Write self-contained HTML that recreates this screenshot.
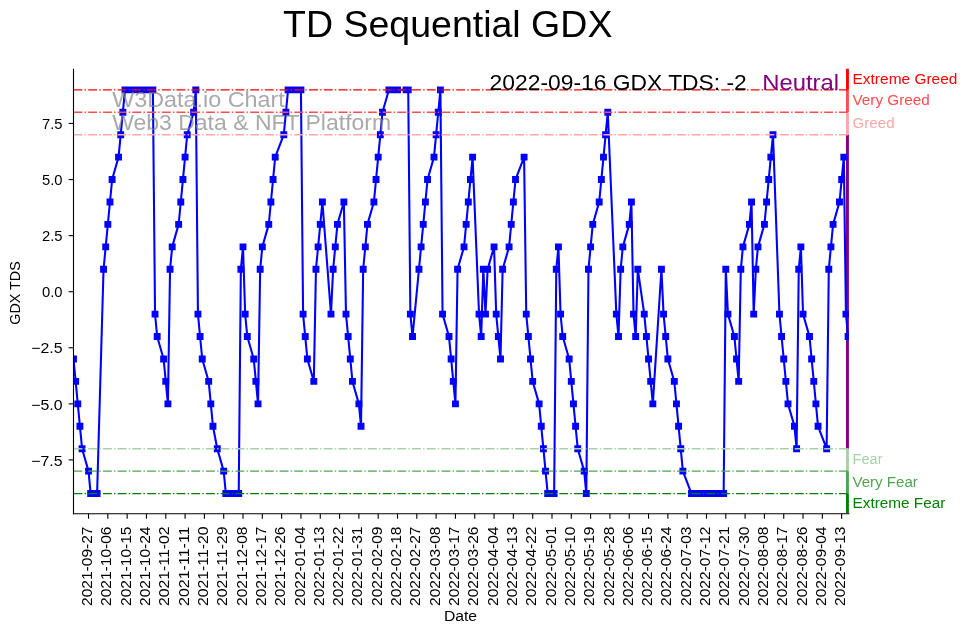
<!DOCTYPE html>
<html><head><meta charset="utf-8"><title>TD Sequential GDX</title>
<style>
html,body{margin:0;padding:0;background:#fff;}
body{width:967px;height:633px;overflow:hidden;}
svg{display:block;will-change:transform;}
text{font-family:"Liberation Sans",sans-serif;}
</style></head><body>
<svg width="967" height="633" viewBox="0 0 967 633">
<defs><clipPath id="ax"><rect x="73.5" y="69.4" width="775.4" height="444.4"/></clipPath></defs>
<g id="sentiment-bar">
<rect x="846.0" y="68.80" width="2.9" height="21.03" fill="#ff0000"/>
<rect x="846.0" y="89.83" width="2.9" height="22.43" fill="#ff4d4d"/>
<rect x="846.0" y="112.26" width="2.9" height="22.43" fill="#ffa6a6"/>
<rect x="846.0" y="134.69" width="2.9" height="314.02" fill="#800080"/>
<rect x="846.0" y="448.71" width="2.9" height="22.43" fill="#a6d2a6"/>
<rect x="846.0" y="471.14" width="2.9" height="22.43" fill="#4da64d"/>
<rect x="846.0" y="493.57" width="2.9" height="19.63" fill="#008000"/>
</g>
<g id="series" clip-path="url(#ax)">
<polyline fill="none" stroke="#0000ff" stroke-width="2.08" stroke-linejoin="round" stroke-linecap="square" points="73.50,358.99 75.65,381.42 77.79,403.85 79.94,426.28 82.08,448.71 88.52,471.14 90.67,493.57 92.81,493.57 94.96,493.57 97.10,493.57 103.54,269.27 105.69,246.84 107.83,224.41 109.98,201.98 112.12,179.55 118.56,157.12 120.71,134.69 122.85,112.26 125.00,89.83 127.14,89.83 133.58,89.83 135.73,89.83 137.87,89.83 140.02,89.83 142.16,89.83 148.60,89.83 150.75,89.83 152.89,89.83 155.04,314.13 157.18,336.56 163.62,358.99 165.77,381.42 167.91,403.85 170.06,269.27 172.20,246.84 178.64,224.41 180.79,201.98 182.93,179.55 185.08,157.12 187.22,134.69 193.66,112.26 195.80,89.83 197.95,314.13 200.10,336.56 202.24,358.99 208.68,381.42 210.82,403.85 212.97,426.28 217.26,448.71 223.70,471.14 225.84,493.57 227.99,493.57 230.14,493.57 232.28,493.57 238.72,493.57 240.86,269.27 243.01,246.84 245.16,314.13 247.30,336.56 253.74,358.99 255.88,381.42 258.03,403.85 260.18,269.27 262.32,246.84 268.76,224.41 270.90,201.98 273.05,179.55 275.20,157.12 283.78,134.69 285.92,112.26 288.07,89.83 290.22,89.83 292.36,89.83 298.80,89.83 300.94,89.83 303.09,314.13 305.24,336.56 307.38,358.99 313.82,381.42 315.96,269.27 318.11,246.84 320.26,224.41 322.40,201.98 330.98,314.13 333.13,269.27 335.28,246.84 337.42,224.41 343.86,201.98 346.00,314.13 348.15,336.56 350.30,358.99 352.44,381.42 358.88,403.85 361.02,426.28 363.17,269.27 365.32,246.84 367.46,224.41 373.90,201.98 376.04,179.55 378.19,157.12 380.34,134.69 382.48,112.26 388.92,89.83 391.06,89.83 393.21,89.83 395.36,89.83 397.50,89.83 406.08,89.83 408.23,89.83 410.37,314.13 412.52,336.56 418.96,269.27 421.10,246.84 423.25,224.41 425.39,201.98 427.54,179.55 433.98,157.12 436.12,134.69 438.27,112.26 440.41,89.83 442.56,314.13 449.00,336.56 451.14,358.99 453.29,381.42 455.43,403.85 457.58,269.27 464.02,246.84 466.16,224.41 468.31,201.98 470.45,179.55 472.60,157.12 479.04,314.13 481.18,336.56 483.33,269.27 485.47,314.13 487.62,269.27 494.06,246.84 496.20,314.13 498.35,336.56 500.49,358.99 502.64,269.27 509.08,246.84 511.22,224.41 513.37,201.98 515.51,179.55 524.10,157.12 526.24,314.13 528.39,336.56 530.53,358.99 532.68,381.42 539.12,403.85 541.26,426.28 543.41,448.71 545.55,471.14 547.70,493.57 554.14,493.57 556.28,269.27 558.43,246.84 560.57,314.13 562.72,336.56 569.16,358.99 571.30,381.42 573.45,403.85 575.59,426.28 577.74,448.71 584.18,471.14 586.32,493.57 588.47,269.27 590.61,246.84 592.76,224.41 599.20,201.98 601.34,179.55 603.49,157.12 605.63,134.69 607.78,112.26 616.36,314.13 618.51,336.56 620.65,269.27 622.80,246.84 629.24,224.41 631.38,201.98 633.53,314.13 635.67,336.56 637.82,269.27 644.26,314.13 646.40,336.56 648.55,358.99 650.69,381.42 652.84,403.85 661.42,269.27 663.57,314.13 665.71,336.56 667.86,358.99 674.30,381.42 676.44,403.85 678.59,426.28 680.73,448.71 682.88,471.14 691.46,493.57 693.61,493.57 695.75,493.57 697.90,493.57 704.34,493.57 706.48,493.57 708.63,493.57 710.77,493.57 712.92,493.57 719.36,493.57 721.50,493.57 723.65,493.57 725.79,269.27 727.94,314.13 734.38,336.56 736.52,358.99 738.67,381.42 740.81,269.27 742.96,246.84 749.40,224.41 751.54,201.98 753.69,314.13 755.83,269.27 757.98,246.84 764.42,224.41 766.56,201.98 768.71,179.55 770.85,157.12 773.00,134.69 779.44,314.13 781.58,336.56 783.73,358.99 785.87,381.42 788.02,403.85 794.46,426.28 796.60,448.71 798.75,269.27 800.89,246.84 803.04,314.13 809.48,336.56 811.62,358.99 813.77,381.42 815.91,403.85 818.06,426.28 826.64,448.71 828.79,269.27 830.93,246.84 833.08,224.41 839.51,201.98 841.66,179.55 843.81,157.12 845.95,314.13 848.10,336.56"/>
<path d="M70.05 355.54h6.9v6.9h-6.9zM72.20 377.97h6.9v6.9h-6.9zM74.34 400.40h6.9v6.9h-6.9zM76.49 422.83h6.9v6.9h-6.9zM78.63 445.26h6.9v6.9h-6.9zM85.07 467.69h6.9v6.9h-6.9zM87.22 490.12h6.9v6.9h-6.9zM89.36 490.12h6.9v6.9h-6.9zM91.51 490.12h6.9v6.9h-6.9zM93.65 490.12h6.9v6.9h-6.9zM100.09 265.82h6.9v6.9h-6.9zM102.24 243.39h6.9v6.9h-6.9zM104.38 220.96h6.9v6.9h-6.9zM106.53 198.53h6.9v6.9h-6.9zM108.67 176.10h6.9v6.9h-6.9zM115.11 153.67h6.9v6.9h-6.9zM117.26 131.24h6.9v6.9h-6.9zM119.40 108.81h6.9v6.9h-6.9zM121.55 86.38h6.9v6.9h-6.9zM123.69 86.38h6.9v6.9h-6.9zM130.13 86.38h6.9v6.9h-6.9zM132.28 86.38h6.9v6.9h-6.9zM134.42 86.38h6.9v6.9h-6.9zM136.57 86.38h6.9v6.9h-6.9zM138.71 86.38h6.9v6.9h-6.9zM145.15 86.38h6.9v6.9h-6.9zM147.30 86.38h6.9v6.9h-6.9zM149.44 86.38h6.9v6.9h-6.9zM151.59 310.68h6.9v6.9h-6.9zM153.73 333.11h6.9v6.9h-6.9zM160.17 355.54h6.9v6.9h-6.9zM162.32 377.97h6.9v6.9h-6.9zM164.46 400.40h6.9v6.9h-6.9zM166.61 265.82h6.9v6.9h-6.9zM168.75 243.39h6.9v6.9h-6.9zM175.19 220.96h6.9v6.9h-6.9zM177.34 198.53h6.9v6.9h-6.9zM179.48 176.10h6.9v6.9h-6.9zM181.63 153.67h6.9v6.9h-6.9zM183.77 131.24h6.9v6.9h-6.9zM190.21 108.81h6.9v6.9h-6.9zM192.35 86.38h6.9v6.9h-6.9zM194.50 310.68h6.9v6.9h-6.9zM196.65 333.11h6.9v6.9h-6.9zM198.79 355.54h6.9v6.9h-6.9zM205.23 377.97h6.9v6.9h-6.9zM207.37 400.40h6.9v6.9h-6.9zM209.52 422.83h6.9v6.9h-6.9zM213.81 445.26h6.9v6.9h-6.9zM220.25 467.69h6.9v6.9h-6.9zM222.39 490.12h6.9v6.9h-6.9zM224.54 490.12h6.9v6.9h-6.9zM226.69 490.12h6.9v6.9h-6.9zM228.83 490.12h6.9v6.9h-6.9zM235.27 490.12h6.9v6.9h-6.9zM237.41 265.82h6.9v6.9h-6.9zM239.56 243.39h6.9v6.9h-6.9zM241.71 310.68h6.9v6.9h-6.9zM243.85 333.11h6.9v6.9h-6.9zM250.29 355.54h6.9v6.9h-6.9zM252.43 377.97h6.9v6.9h-6.9zM254.58 400.40h6.9v6.9h-6.9zM256.73 265.82h6.9v6.9h-6.9zM258.87 243.39h6.9v6.9h-6.9zM265.31 220.96h6.9v6.9h-6.9zM267.45 198.53h6.9v6.9h-6.9zM269.60 176.10h6.9v6.9h-6.9zM271.75 153.67h6.9v6.9h-6.9zM280.33 131.24h6.9v6.9h-6.9zM282.47 108.81h6.9v6.9h-6.9zM284.62 86.38h6.9v6.9h-6.9zM286.77 86.38h6.9v6.9h-6.9zM288.91 86.38h6.9v6.9h-6.9zM295.35 86.38h6.9v6.9h-6.9zM297.49 86.38h6.9v6.9h-6.9zM299.64 310.68h6.9v6.9h-6.9zM301.79 333.11h6.9v6.9h-6.9zM303.93 355.54h6.9v6.9h-6.9zM310.37 377.97h6.9v6.9h-6.9zM312.51 265.82h6.9v6.9h-6.9zM314.66 243.39h6.9v6.9h-6.9zM316.81 220.96h6.9v6.9h-6.9zM318.95 198.53h6.9v6.9h-6.9zM327.53 310.68h6.9v6.9h-6.9zM329.68 265.82h6.9v6.9h-6.9zM331.83 243.39h6.9v6.9h-6.9zM333.97 220.96h6.9v6.9h-6.9zM340.41 198.53h6.9v6.9h-6.9zM342.55 310.68h6.9v6.9h-6.9zM344.70 333.11h6.9v6.9h-6.9zM346.85 355.54h6.9v6.9h-6.9zM348.99 377.97h6.9v6.9h-6.9zM355.43 400.40h6.9v6.9h-6.9zM357.57 422.83h6.9v6.9h-6.9zM359.72 265.82h6.9v6.9h-6.9zM361.87 243.39h6.9v6.9h-6.9zM364.01 220.96h6.9v6.9h-6.9zM370.45 198.53h6.9v6.9h-6.9zM372.59 176.10h6.9v6.9h-6.9zM374.74 153.67h6.9v6.9h-6.9zM376.89 131.24h6.9v6.9h-6.9zM379.03 108.81h6.9v6.9h-6.9zM385.47 86.38h6.9v6.9h-6.9zM387.61 86.38h6.9v6.9h-6.9zM389.76 86.38h6.9v6.9h-6.9zM391.91 86.38h6.9v6.9h-6.9zM394.05 86.38h6.9v6.9h-6.9zM402.63 86.38h6.9v6.9h-6.9zM404.78 86.38h6.9v6.9h-6.9zM406.92 310.68h6.9v6.9h-6.9zM409.07 333.11h6.9v6.9h-6.9zM415.51 265.82h6.9v6.9h-6.9zM417.65 243.39h6.9v6.9h-6.9zM419.80 220.96h6.9v6.9h-6.9zM421.94 198.53h6.9v6.9h-6.9zM424.09 176.10h6.9v6.9h-6.9zM430.53 153.67h6.9v6.9h-6.9zM432.67 131.24h6.9v6.9h-6.9zM434.82 108.81h6.9v6.9h-6.9zM436.96 86.38h6.9v6.9h-6.9zM439.11 310.68h6.9v6.9h-6.9zM445.55 333.11h6.9v6.9h-6.9zM447.69 355.54h6.9v6.9h-6.9zM449.84 377.97h6.9v6.9h-6.9zM451.98 400.40h6.9v6.9h-6.9zM454.13 265.82h6.9v6.9h-6.9zM460.57 243.39h6.9v6.9h-6.9zM462.71 220.96h6.9v6.9h-6.9zM464.86 198.53h6.9v6.9h-6.9zM467.00 176.10h6.9v6.9h-6.9zM469.15 153.67h6.9v6.9h-6.9zM475.59 310.68h6.9v6.9h-6.9zM477.73 333.11h6.9v6.9h-6.9zM479.88 265.82h6.9v6.9h-6.9zM482.02 310.68h6.9v6.9h-6.9zM484.17 265.82h6.9v6.9h-6.9zM490.61 243.39h6.9v6.9h-6.9zM492.75 310.68h6.9v6.9h-6.9zM494.90 333.11h6.9v6.9h-6.9zM497.04 355.54h6.9v6.9h-6.9zM499.19 265.82h6.9v6.9h-6.9zM505.63 243.39h6.9v6.9h-6.9zM507.77 220.96h6.9v6.9h-6.9zM509.92 198.53h6.9v6.9h-6.9zM512.06 176.10h6.9v6.9h-6.9zM520.65 153.67h6.9v6.9h-6.9zM522.79 310.68h6.9v6.9h-6.9zM524.94 333.11h6.9v6.9h-6.9zM527.08 355.54h6.9v6.9h-6.9zM529.23 377.97h6.9v6.9h-6.9zM535.67 400.40h6.9v6.9h-6.9zM537.81 422.83h6.9v6.9h-6.9zM539.96 445.26h6.9v6.9h-6.9zM542.10 467.69h6.9v6.9h-6.9zM544.25 490.12h6.9v6.9h-6.9zM550.69 490.12h6.9v6.9h-6.9zM552.83 265.82h6.9v6.9h-6.9zM554.98 243.39h6.9v6.9h-6.9zM557.12 310.68h6.9v6.9h-6.9zM559.27 333.11h6.9v6.9h-6.9zM565.71 355.54h6.9v6.9h-6.9zM567.85 377.97h6.9v6.9h-6.9zM570.00 400.40h6.9v6.9h-6.9zM572.14 422.83h6.9v6.9h-6.9zM574.29 445.26h6.9v6.9h-6.9zM580.73 467.69h6.9v6.9h-6.9zM582.87 490.12h6.9v6.9h-6.9zM585.02 265.82h6.9v6.9h-6.9zM587.16 243.39h6.9v6.9h-6.9zM589.31 220.96h6.9v6.9h-6.9zM595.75 198.53h6.9v6.9h-6.9zM597.89 176.10h6.9v6.9h-6.9zM600.04 153.67h6.9v6.9h-6.9zM602.18 131.24h6.9v6.9h-6.9zM604.33 108.81h6.9v6.9h-6.9zM612.91 310.68h6.9v6.9h-6.9zM615.06 333.11h6.9v6.9h-6.9zM617.20 265.82h6.9v6.9h-6.9zM619.35 243.39h6.9v6.9h-6.9zM625.79 220.96h6.9v6.9h-6.9zM627.93 198.53h6.9v6.9h-6.9zM630.08 310.68h6.9v6.9h-6.9zM632.22 333.11h6.9v6.9h-6.9zM634.37 265.82h6.9v6.9h-6.9zM640.81 310.68h6.9v6.9h-6.9zM642.95 333.11h6.9v6.9h-6.9zM645.10 355.54h6.9v6.9h-6.9zM647.24 377.97h6.9v6.9h-6.9zM649.39 400.40h6.9v6.9h-6.9zM657.97 265.82h6.9v6.9h-6.9zM660.12 310.68h6.9v6.9h-6.9zM662.26 333.11h6.9v6.9h-6.9zM664.41 355.54h6.9v6.9h-6.9zM670.85 377.97h6.9v6.9h-6.9zM672.99 400.40h6.9v6.9h-6.9zM675.14 422.83h6.9v6.9h-6.9zM677.28 445.26h6.9v6.9h-6.9zM679.43 467.69h6.9v6.9h-6.9zM688.01 490.12h6.9v6.9h-6.9zM690.16 490.12h6.9v6.9h-6.9zM692.30 490.12h6.9v6.9h-6.9zM694.45 490.12h6.9v6.9h-6.9zM700.89 490.12h6.9v6.9h-6.9zM703.03 490.12h6.9v6.9h-6.9zM705.18 490.12h6.9v6.9h-6.9zM707.32 490.12h6.9v6.9h-6.9zM709.47 490.12h6.9v6.9h-6.9zM715.91 490.12h6.9v6.9h-6.9zM718.05 490.12h6.9v6.9h-6.9zM720.20 490.12h6.9v6.9h-6.9zM722.34 265.82h6.9v6.9h-6.9zM724.49 310.68h6.9v6.9h-6.9zM730.93 333.11h6.9v6.9h-6.9zM733.07 355.54h6.9v6.9h-6.9zM735.22 377.97h6.9v6.9h-6.9zM737.36 265.82h6.9v6.9h-6.9zM739.51 243.39h6.9v6.9h-6.9zM745.95 220.96h6.9v6.9h-6.9zM748.09 198.53h6.9v6.9h-6.9zM750.24 310.68h6.9v6.9h-6.9zM752.38 265.82h6.9v6.9h-6.9zM754.53 243.39h6.9v6.9h-6.9zM760.97 220.96h6.9v6.9h-6.9zM763.11 198.53h6.9v6.9h-6.9zM765.26 176.10h6.9v6.9h-6.9zM767.40 153.67h6.9v6.9h-6.9zM769.55 131.24h6.9v6.9h-6.9zM775.99 310.68h6.9v6.9h-6.9zM778.13 333.11h6.9v6.9h-6.9zM780.28 355.54h6.9v6.9h-6.9zM782.42 377.97h6.9v6.9h-6.9zM784.57 400.40h6.9v6.9h-6.9zM791.01 422.83h6.9v6.9h-6.9zM793.15 445.26h6.9v6.9h-6.9zM795.30 265.82h6.9v6.9h-6.9zM797.44 243.39h6.9v6.9h-6.9zM799.59 310.68h6.9v6.9h-6.9zM806.03 333.11h6.9v6.9h-6.9zM808.17 355.54h6.9v6.9h-6.9zM810.32 377.97h6.9v6.9h-6.9zM812.46 400.40h6.9v6.9h-6.9zM814.61 422.83h6.9v6.9h-6.9zM823.19 445.26h6.9v6.9h-6.9zM825.34 265.82h6.9v6.9h-6.9zM827.48 243.39h6.9v6.9h-6.9zM829.63 220.96h6.9v6.9h-6.9zM836.06 198.53h6.9v6.9h-6.9zM838.21 176.10h6.9v6.9h-6.9zM840.36 153.67h6.9v6.9h-6.9zM842.50 310.68h6.9v6.9h-6.9zM844.65 333.11h6.9v6.9h-6.9z" fill="#0000ff"/>
</g>
<g id="watermark" fill-opacity="0.68">
<text x="112.20" y="107.00" font-size="21.98" fill="#808080" text-anchor="start" textLength="172.63" lengthAdjust="spacingAndGlyphs">W3Data.io Chart</text>
<text x="112.20" y="130.00" font-size="21.98" fill="#808080" text-anchor="start" textLength="278.95" lengthAdjust="spacingAndGlyphs">Web3 Data &amp; NFT Platform</text>
</g>
<g id="levels" fill="none" stroke-width="1.39" stroke-dasharray="8.89 2.22 1.39 2.22">
<line x1="73.5" x2="848.9" y1="89.83" y2="89.83" stroke="#ff0000"/>
<line x1="73.5" x2="848.9" y1="112.26" y2="112.26" stroke="#ff4d4d"/>
<line x1="73.5" x2="848.9" y1="134.69" y2="134.69" stroke="#ffa6a6"/>
<line x1="73.5" x2="848.9" y1="448.71" y2="448.71" stroke="#a6d2a6"/>
<line x1="73.5" x2="848.9" y1="471.14" y2="471.14" stroke="#4da64d"/>
<line x1="73.5" x2="848.9" y1="493.57" y2="493.57" stroke="#008000"/>
</g>
<g id="axes" stroke="#000" stroke-width="1.11" fill="none" stroke-linecap="square">
<line x1="73.5" y1="69.4" x2="73.5" y2="513.8"/>
<line x1="73.5" y1="513.8" x2="848.9" y2="513.8"/>
</g>
<g id="ticks" stroke="#000" stroke-width="1.11" stroke-linecap="butt">
<line x1="88.52" x2="88.52" y1="513.8" y2="518.66"/>
<line x1="107.83" x2="107.83" y1="513.8" y2="518.66"/>
<line x1="127.14" x2="127.14" y1="513.8" y2="518.66"/>
<line x1="146.45" x2="146.45" y1="513.8" y2="518.66"/>
<line x1="165.77" x2="165.77" y1="513.8" y2="518.66"/>
<line x1="185.08" x2="185.08" y1="513.8" y2="518.66"/>
<line x1="204.39" x2="204.39" y1="513.8" y2="518.66"/>
<line x1="223.70" x2="223.70" y1="513.8" y2="518.66"/>
<line x1="243.01" x2="243.01" y1="513.8" y2="518.66"/>
<line x1="262.32" x2="262.32" y1="513.8" y2="518.66"/>
<line x1="281.63" x2="281.63" y1="513.8" y2="518.66"/>
<line x1="300.94" x2="300.94" y1="513.8" y2="518.66"/>
<line x1="320.26" x2="320.26" y1="513.8" y2="518.66"/>
<line x1="339.57" x2="339.57" y1="513.8" y2="518.66"/>
<line x1="358.88" x2="358.88" y1="513.8" y2="518.66"/>
<line x1="378.19" x2="378.19" y1="513.8" y2="518.66"/>
<line x1="397.50" x2="397.50" y1="513.8" y2="518.66"/>
<line x1="416.81" x2="416.81" y1="513.8" y2="518.66"/>
<line x1="436.12" x2="436.12" y1="513.8" y2="518.66"/>
<line x1="455.43" x2="455.43" y1="513.8" y2="518.66"/>
<line x1="474.75" x2="474.75" y1="513.8" y2="518.66"/>
<line x1="494.06" x2="494.06" y1="513.8" y2="518.66"/>
<line x1="513.37" x2="513.37" y1="513.8" y2="518.66"/>
<line x1="532.68" x2="532.68" y1="513.8" y2="518.66"/>
<line x1="551.99" x2="551.99" y1="513.8" y2="518.66"/>
<line x1="571.30" x2="571.30" y1="513.8" y2="518.66"/>
<line x1="590.61" x2="590.61" y1="513.8" y2="518.66"/>
<line x1="609.93" x2="609.93" y1="513.8" y2="518.66"/>
<line x1="629.24" x2="629.24" y1="513.8" y2="518.66"/>
<line x1="648.55" x2="648.55" y1="513.8" y2="518.66"/>
<line x1="667.86" x2="667.86" y1="513.8" y2="518.66"/>
<line x1="687.17" x2="687.17" y1="513.8" y2="518.66"/>
<line x1="706.48" x2="706.48" y1="513.8" y2="518.66"/>
<line x1="725.79" x2="725.79" y1="513.8" y2="518.66"/>
<line x1="745.10" x2="745.10" y1="513.8" y2="518.66"/>
<line x1="764.42" x2="764.42" y1="513.8" y2="518.66"/>
<line x1="783.73" x2="783.73" y1="513.8" y2="518.66"/>
<line x1="803.04" x2="803.04" y1="513.8" y2="518.66"/>
<line x1="822.35" x2="822.35" y1="513.8" y2="518.66"/>
<line x1="841.66" x2="841.66" y1="513.8" y2="518.66"/>
<line x1="68.64" x2="73.5" y1="123.47" y2="123.47"/>
<line x1="68.64" x2="73.5" y1="179.55" y2="179.55"/>
<line x1="68.64" x2="73.5" y1="235.62" y2="235.62"/>
<line x1="68.64" x2="73.5" y1="291.70" y2="291.70"/>
<line x1="68.64" x2="73.5" y1="347.77" y2="347.77"/>
<line x1="68.64" x2="73.5" y1="403.85" y2="403.85"/>
<line x1="68.64" x2="73.5" y1="459.92" y2="459.92"/>
</g>
<g id="ticklabels">
<text x="92.12" y="606.00" font-size="14.65" fill="#000" text-anchor="start" textLength="79.51" lengthAdjust="spacingAndGlyphs" transform="rotate(-90 92.12 606.00)">2021-09-27</text>
<text x="111.43" y="606.00" font-size="14.65" fill="#000" text-anchor="start" textLength="79.51" lengthAdjust="spacingAndGlyphs" transform="rotate(-90 111.43 606.00)">2021-10-06</text>
<text x="130.74" y="606.00" font-size="14.65" fill="#000" text-anchor="start" textLength="79.51" lengthAdjust="spacingAndGlyphs" transform="rotate(-90 130.74 606.00)">2021-10-15</text>
<text x="150.05" y="606.00" font-size="14.65" fill="#000" text-anchor="start" textLength="79.51" lengthAdjust="spacingAndGlyphs" transform="rotate(-90 150.05 606.00)">2021-10-24</text>
<text x="169.37" y="606.00" font-size="14.65" fill="#000" text-anchor="start" textLength="79.51" lengthAdjust="spacingAndGlyphs" transform="rotate(-90 169.37 606.00)">2021-11-02</text>
<text x="188.68" y="606.00" font-size="14.65" fill="#000" text-anchor="start" textLength="79.51" lengthAdjust="spacingAndGlyphs" transform="rotate(-90 188.68 606.00)">2021-11-11</text>
<text x="207.99" y="606.00" font-size="14.65" fill="#000" text-anchor="start" textLength="79.51" lengthAdjust="spacingAndGlyphs" transform="rotate(-90 207.99 606.00)">2021-11-20</text>
<text x="227.30" y="606.00" font-size="14.65" fill="#000" text-anchor="start" textLength="79.51" lengthAdjust="spacingAndGlyphs" transform="rotate(-90 227.30 606.00)">2021-11-29</text>
<text x="246.61" y="606.00" font-size="14.65" fill="#000" text-anchor="start" textLength="79.51" lengthAdjust="spacingAndGlyphs" transform="rotate(-90 246.61 606.00)">2021-12-08</text>
<text x="265.92" y="606.00" font-size="14.65" fill="#000" text-anchor="start" textLength="79.51" lengthAdjust="spacingAndGlyphs" transform="rotate(-90 265.92 606.00)">2021-12-17</text>
<text x="285.23" y="606.00" font-size="14.65" fill="#000" text-anchor="start" textLength="79.51" lengthAdjust="spacingAndGlyphs" transform="rotate(-90 285.23 606.00)">2021-12-26</text>
<text x="304.54" y="606.00" font-size="14.65" fill="#000" text-anchor="start" textLength="79.51" lengthAdjust="spacingAndGlyphs" transform="rotate(-90 304.54 606.00)">2022-01-04</text>
<text x="323.86" y="606.00" font-size="14.65" fill="#000" text-anchor="start" textLength="79.51" lengthAdjust="spacingAndGlyphs" transform="rotate(-90 323.86 606.00)">2022-01-13</text>
<text x="343.17" y="606.00" font-size="14.65" fill="#000" text-anchor="start" textLength="79.51" lengthAdjust="spacingAndGlyphs" transform="rotate(-90 343.17 606.00)">2022-01-22</text>
<text x="362.48" y="606.00" font-size="14.65" fill="#000" text-anchor="start" textLength="79.51" lengthAdjust="spacingAndGlyphs" transform="rotate(-90 362.48 606.00)">2022-01-31</text>
<text x="381.79" y="606.00" font-size="14.65" fill="#000" text-anchor="start" textLength="79.51" lengthAdjust="spacingAndGlyphs" transform="rotate(-90 381.79 606.00)">2022-02-09</text>
<text x="401.10" y="606.00" font-size="14.65" fill="#000" text-anchor="start" textLength="79.51" lengthAdjust="spacingAndGlyphs" transform="rotate(-90 401.10 606.00)">2022-02-18</text>
<text x="420.41" y="606.00" font-size="14.65" fill="#000" text-anchor="start" textLength="79.51" lengthAdjust="spacingAndGlyphs" transform="rotate(-90 420.41 606.00)">2022-02-27</text>
<text x="439.72" y="606.00" font-size="14.65" fill="#000" text-anchor="start" textLength="79.51" lengthAdjust="spacingAndGlyphs" transform="rotate(-90 439.72 606.00)">2022-03-08</text>
<text x="459.03" y="606.00" font-size="14.65" fill="#000" text-anchor="start" textLength="79.51" lengthAdjust="spacingAndGlyphs" transform="rotate(-90 459.03 606.00)">2022-03-17</text>
<text x="478.35" y="606.00" font-size="14.65" fill="#000" text-anchor="start" textLength="79.51" lengthAdjust="spacingAndGlyphs" transform="rotate(-90 478.35 606.00)">2022-03-26</text>
<text x="497.66" y="606.00" font-size="14.65" fill="#000" text-anchor="start" textLength="79.51" lengthAdjust="spacingAndGlyphs" transform="rotate(-90 497.66 606.00)">2022-04-04</text>
<text x="516.97" y="606.00" font-size="14.65" fill="#000" text-anchor="start" textLength="79.51" lengthAdjust="spacingAndGlyphs" transform="rotate(-90 516.97 606.00)">2022-04-13</text>
<text x="536.28" y="606.00" font-size="14.65" fill="#000" text-anchor="start" textLength="79.51" lengthAdjust="spacingAndGlyphs" transform="rotate(-90 536.28 606.00)">2022-04-22</text>
<text x="555.59" y="606.00" font-size="14.65" fill="#000" text-anchor="start" textLength="79.51" lengthAdjust="spacingAndGlyphs" transform="rotate(-90 555.59 606.00)">2022-05-01</text>
<text x="574.90" y="606.00" font-size="14.65" fill="#000" text-anchor="start" textLength="79.51" lengthAdjust="spacingAndGlyphs" transform="rotate(-90 574.90 606.00)">2022-05-10</text>
<text x="594.21" y="606.00" font-size="14.65" fill="#000" text-anchor="start" textLength="79.51" lengthAdjust="spacingAndGlyphs" transform="rotate(-90 594.21 606.00)">2022-05-19</text>
<text x="613.53" y="606.00" font-size="14.65" fill="#000" text-anchor="start" textLength="79.51" lengthAdjust="spacingAndGlyphs" transform="rotate(-90 613.53 606.00)">2022-05-28</text>
<text x="632.84" y="606.00" font-size="14.65" fill="#000" text-anchor="start" textLength="79.51" lengthAdjust="spacingAndGlyphs" transform="rotate(-90 632.84 606.00)">2022-06-06</text>
<text x="652.15" y="606.00" font-size="14.65" fill="#000" text-anchor="start" textLength="79.51" lengthAdjust="spacingAndGlyphs" transform="rotate(-90 652.15 606.00)">2022-06-15</text>
<text x="671.46" y="606.00" font-size="14.65" fill="#000" text-anchor="start" textLength="79.51" lengthAdjust="spacingAndGlyphs" transform="rotate(-90 671.46 606.00)">2022-06-24</text>
<text x="690.77" y="606.00" font-size="14.65" fill="#000" text-anchor="start" textLength="79.51" lengthAdjust="spacingAndGlyphs" transform="rotate(-90 690.77 606.00)">2022-07-03</text>
<text x="710.08" y="606.00" font-size="14.65" fill="#000" text-anchor="start" textLength="79.51" lengthAdjust="spacingAndGlyphs" transform="rotate(-90 710.08 606.00)">2022-07-12</text>
<text x="729.39" y="606.00" font-size="14.65" fill="#000" text-anchor="start" textLength="79.51" lengthAdjust="spacingAndGlyphs" transform="rotate(-90 729.39 606.00)">2022-07-21</text>
<text x="748.70" y="606.00" font-size="14.65" fill="#000" text-anchor="start" textLength="79.51" lengthAdjust="spacingAndGlyphs" transform="rotate(-90 748.70 606.00)">2022-07-30</text>
<text x="768.02" y="606.00" font-size="14.65" fill="#000" text-anchor="start" textLength="79.51" lengthAdjust="spacingAndGlyphs" transform="rotate(-90 768.02 606.00)">2022-08-08</text>
<text x="787.33" y="606.00" font-size="14.65" fill="#000" text-anchor="start" textLength="79.51" lengthAdjust="spacingAndGlyphs" transform="rotate(-90 787.33 606.00)">2022-08-17</text>
<text x="806.64" y="606.00" font-size="14.65" fill="#000" text-anchor="start" textLength="79.51" lengthAdjust="spacingAndGlyphs" transform="rotate(-90 806.64 606.00)">2022-08-26</text>
<text x="825.95" y="606.00" font-size="14.65" fill="#000" text-anchor="start" textLength="79.51" lengthAdjust="spacingAndGlyphs" transform="rotate(-90 825.95 606.00)">2022-09-04</text>
<text x="845.26" y="606.00" font-size="14.65" fill="#000" text-anchor="start" textLength="79.51" lengthAdjust="spacingAndGlyphs" transform="rotate(-90 845.26 606.00)">2022-09-13</text>
<text x="62.60" y="129.00" font-size="14.65" fill="#000" text-anchor="end" textLength="20.54" lengthAdjust="spacingAndGlyphs">7.5</text>
<text x="62.60" y="185.00" font-size="14.65" fill="#000" text-anchor="end" textLength="20.54" lengthAdjust="spacingAndGlyphs">5.0</text>
<text x="62.60" y="241.00" font-size="14.65" fill="#000" text-anchor="end" textLength="20.54" lengthAdjust="spacingAndGlyphs">2.5</text>
<text x="62.60" y="297.00" font-size="14.65" fill="#000" text-anchor="end" textLength="20.54" lengthAdjust="spacingAndGlyphs">0.0</text>
<text x="62.60" y="353.00" font-size="14.65" fill="#000" text-anchor="end" textLength="31.37" lengthAdjust="spacingAndGlyphs">−2.5</text>
<text x="62.60" y="410.00" font-size="14.65" fill="#000" text-anchor="end" textLength="31.37" lengthAdjust="spacingAndGlyphs">−5.0</text>
<text x="62.60" y="466.00" font-size="14.65" fill="#000" text-anchor="end" textLength="31.37" lengthAdjust="spacingAndGlyphs">−7.5</text>
</g>
<text x="460.50" y="621.00" font-size="14.65" fill="#000" text-anchor="middle" textLength="33.20" lengthAdjust="spacingAndGlyphs">Date</text>
<text x="19.80" y="293.00" font-size="14.65" fill="#000" text-anchor="middle" textLength="63.38" lengthAdjust="spacingAndGlyphs" transform="rotate(-90 19.80 293.00)">GDX TDS</text>
<text x="447.70" y="37.00" font-size="36.63" fill="#000" text-anchor="middle" textLength="329.46" lengthAdjust="spacingAndGlyphs">TD Sequential GDX</text>
<text x="746.80" y="90.00" font-size="21.98" fill="#000" text-anchor="end" textLength="257.19" lengthAdjust="spacingAndGlyphs">2022-09-16 GDX TDS: -2</text>
<text x="762.20" y="90.00" font-size="21.98" fill="#800080" text-anchor="start" textLength="76.90" lengthAdjust="spacingAndGlyphs">Neutral</text>
<text x="852.50" y="84.00" font-size="14.65" fill="#ff0000" text-anchor="start" textLength="104.96" lengthAdjust="spacingAndGlyphs">Extreme Greed</text>
<text x="852.50" y="105.00" font-size="14.65" fill="#ff4d4d" text-anchor="start" textLength="77.39" lengthAdjust="spacingAndGlyphs">Very Greed</text>
<text x="852.50" y="128.00" font-size="14.65" fill="#ffa6a6" text-anchor="start" textLength="42.07" lengthAdjust="spacingAndGlyphs">Greed</text>
<text x="852.50" y="464.00" font-size="14.65" fill="#a6d2a6" text-anchor="start" textLength="30.00" lengthAdjust="spacingAndGlyphs">Fear</text>
<text x="852.50" y="487.00" font-size="14.65" fill="#4da64d" text-anchor="start" textLength="65.31" lengthAdjust="spacingAndGlyphs">Very Fear</text>
<text x="852.50" y="508.00" font-size="14.65" fill="#008000" text-anchor="start" textLength="92.88" lengthAdjust="spacingAndGlyphs">Extreme Fear</text>
</svg>
</body></html>
